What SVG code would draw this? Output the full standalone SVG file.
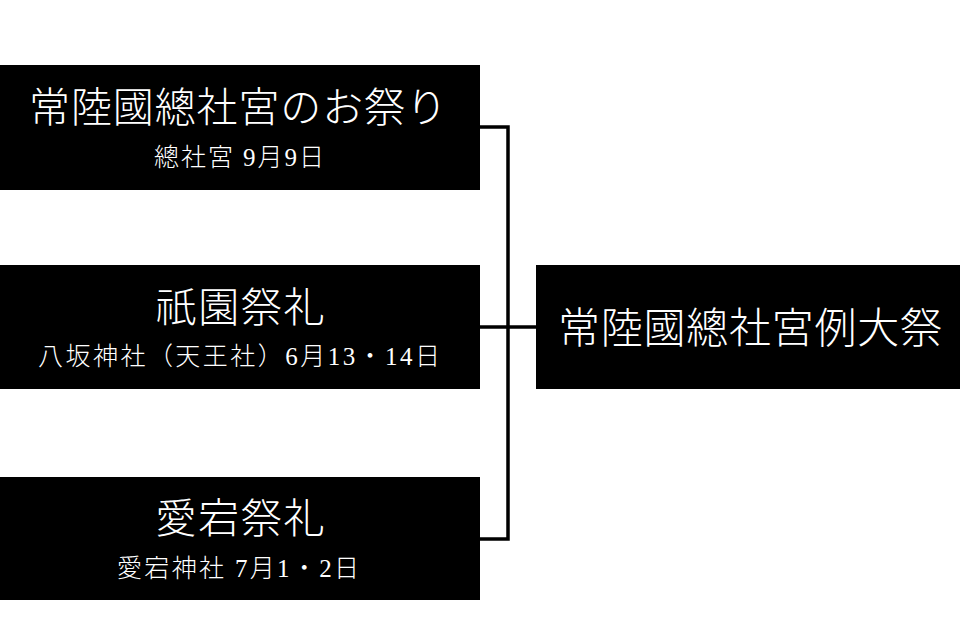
<svg xmlns="http://www.w3.org/2000/svg" width="960" height="640" viewBox="0 0 960 640">
<style>
.box{fill:#000}
.t{fill:#fff;font-family:"Liberation Serif","Noto Sans CJK JP",serif;text-anchor:middle;font-weight:300}
.h{font-size:41px}
.s{font-size:25px}
.c{fill:none;stroke:#000;stroke-width:3.5}
</style>
<rect width="960" height="640" fill="#fff"/>
<g id="connectors">
<path class="c" d="M480,127 H508 V539 H480"/>
<path class="c" d="M480,327 H536"/>
</g>
<g id="n1">
<rect class="box" x="0" y="65" width="480" height="125"/>
<text class="t h" x="238" y="122" textLength="418" lengthAdjust="spacing">常陸國總社宮のお祭り</text>
<text class="t s" x="239" y="166" textLength="170" lengthAdjust="spacing">總社宮 9月9日</text>
</g>
<g id="n2">
<rect class="box" x="0" y="265" width="480" height="124"/>
<text class="t h" x="240" y="322" textLength="169" lengthAdjust="spacing">祇園祭礼</text>
<text class="t s" x="239" y="365" textLength="402" lengthAdjust="spacing">八坂神社（天王社）6月13・14日</text>
</g>
<g id="n3">
<rect class="box" x="0" y="477" width="480" height="123"/>
<text class="t h" x="240" y="533" textLength="169" lengthAdjust="spacing">愛宕祭礼</text>
<text class="t s" x="238" y="577" textLength="242" lengthAdjust="spacing">愛宕神社 7月1・2日</text>
</g>
<g id="n4">
<rect class="box" x="536" y="265" width="424" height="124"/>
<text class="t" x="750" y="343" font-size="42" textLength="384" lengthAdjust="spacing">常陸國總社宮例大祭</text>
</g>
</svg>
